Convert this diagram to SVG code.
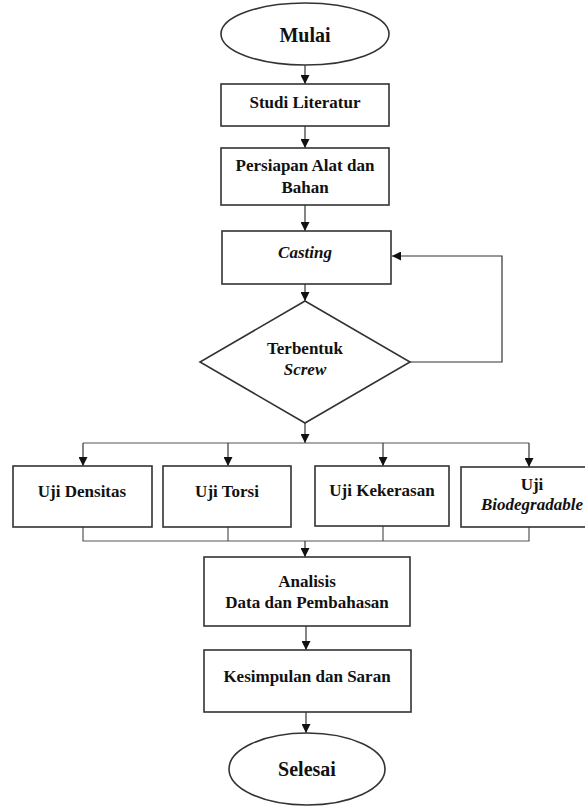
<svg xmlns="http://www.w3.org/2000/svg" width="585" height="809" viewBox="0 0 585 809">
<defs>
<marker id="ah" viewBox="0 0 10 10" refX="10" refY="5" markerWidth="9" markerHeight="9" markerUnits="userSpaceOnUse" orient="auto">
<path d="M0,0 L10,5 L0,10 z" fill="#111"/>
</marker>
<style>
.n{fill:#fff;stroke:#333;stroke-width:1.6}
.t{font-family:"Liberation Serif","Times New Roman",serif;font-weight:bold;font-size:17px;fill:#111;text-anchor:middle}
.i{font-style:italic}
.big{font-size:20px}
.c{fill:none;stroke:#555;stroke-width:1.2}
.ca{fill:none;stroke:#333;stroke-width:1.2;marker-end:url(#ah)}
</style>
</defs>
<rect width="585" height="809" fill="#fff"/>
<g id="connectors">
<path class="ca" d="M305,65 L305,84"/>
<path class="ca" d="M305,126 L305,148"/>
<path class="ca" d="M305,205 L305,231"/>
<path class="ca" d="M305,284 L305,301"/>
<path class="ca" d="M410,362 L502,362 L502,256 L392,256"/>
<path class="ca" d="M305,423 L305,443"/>
<path class="c" d="M83,443 L529,443"/>
<path class="ca" d="M83,443 L83,466"/>
<path class="ca" d="M228,443 L228,466"/>
<path class="ca" d="M383,443 L383,466"/>
<path class="ca" d="M529,443 L529,467"/>
<path class="c" d="M83,527 L83,541 L529,541 L529,527 M228,527 L228,541 M383,526 L383,541"/>
<path class="ca" d="M305,541 L305,557"/>
<path class="ca" d="M306,626 L306,650"/>
<path class="ca" d="M306,712 L306,733"/>
</g>
<g id="mulai"><ellipse class="n" cx="305" cy="34" rx="84" ry="31"/><text class="t big" x="305" y="42">Mulai</text></g>
<g id="studi"><rect class="n" x="221" y="84" width="168" height="42"/><text class="t" x="305" y="108">Studi Literatur</text></g>
<g id="persiapan"><rect class="n" x="221" y="148" width="168" height="57"/><text class="t" x="305" y="171">Persiapan Alat dan</text><text class="t" x="305" y="193">Bahan</text></g>
<g id="casting"><rect class="n" x="222" y="231" width="169" height="53"/><text class="t i" x="305" y="258">Casting</text></g>
<g id="terbentuk"><polygon class="n" points="305,301 410,362 305,423 200,362"/><text class="t" x="305" y="354">Terbentuk</text><text class="t i" x="305" y="375">Screw</text></g>
<g id="densitas"><rect class="n" x="13" y="466" width="139" height="61"/><text class="t" x="82" y="497">Uji Densitas</text></g>
<g id="torsi"><rect class="n" x="163" y="466" width="128" height="61"/><text class="t" x="227" y="497">Uji Torsi</text></g>
<g id="kekerasan"><rect class="n" x="315" y="466" width="134" height="60"/><text class="t" x="382" y="496">Uji Kekerasan</text></g>
<g id="biodegradable"><rect class="n" x="461" y="467" width="142" height="60"/><text class="t" x="532" y="490">Uji</text><text class="t i" x="532" y="510">Biodegradable</text></g>
<g id="analisis"><rect class="n" x="204" y="557" width="206" height="69"/><text class="t" x="307" y="587">Analisis</text><text class="t" x="307" y="608">Data dan Pembahasan</text></g>
<g id="kesimpulan"><rect class="n" x="204" y="650" width="207" height="62"/><text class="t" x="307" y="682">Kesimpulan dan Saran</text></g>
<g id="selesai"><ellipse class="n" cx="307" cy="769" rx="78" ry="36"/><text class="t big" x="307" y="776">Selesai</text></g>
</svg>
